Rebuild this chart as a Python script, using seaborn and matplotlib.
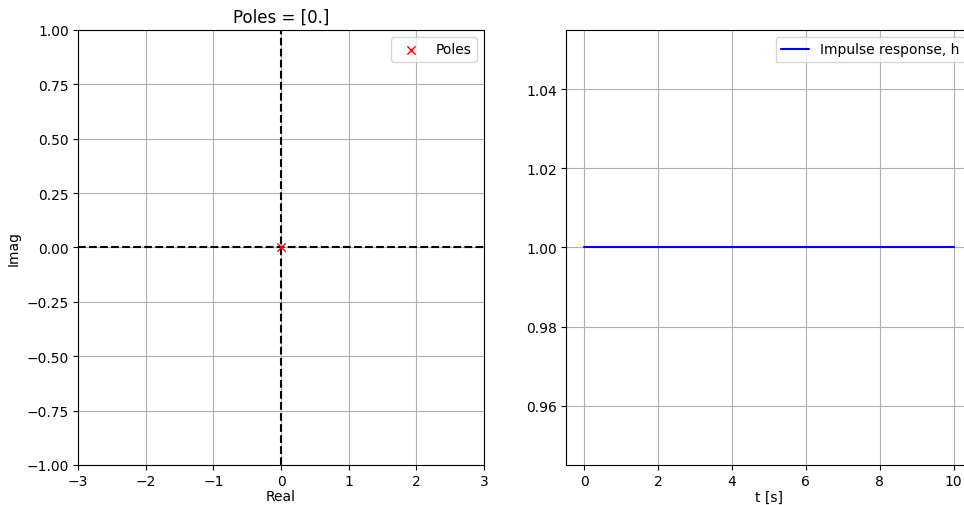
import numpy as np
import pandas as pd
import seaborn as sns
import matplotlib.pyplot as plt

# data
poles_real = [0.0]
poles_imag = [0.0]
t = [0.0, 10.0]
h = [1.0, 1.0]

sns.set_style("ticks")
plt.rcParams['font.family'] = ['DejaVu Sans']
plt.rcParams['text.color'] = 'black'
plt.rcParams['axes.labelcolor'] = 'black'
plt.rcParams['xtick.color'] = 'black'
plt.rcParams['ytick.color'] = 'black'

fig = plt.figure(figsize=(9.64, 5.06), dpi=100)
ax1 = fig.add_axes([0.0809, 0.0791, 0.4212, 0.8597])
ax2 = fig.add_axes([0.5871, 0.0791, 0.4212, 0.8597])

# pole-zero plot
ax1.axhline(0, color='black', linestyle='--', zorder=1)
ax1.axvline(0, color='black', linestyle='--', zorder=1)
pole_df = pd.DataFrame({'Real': poles_real, 'Imag': poles_imag})
sns.scatterplot(data=pole_df, x='Real', y='Imag', ax=ax1, marker='x', color='red',
                s=36, linewidth=1.0, label='Poles', zorder=3)
ax1.set_xlim(-3, 3)
ax1.set_ylim(-1, 1)
ax1.set_yticks(np.arange(-1, 1.01, 0.25))
ax1.grid(True, color='#b0b0b0', linewidth=0.8)
ax1.set_title('Poles = [0.]', fontsize=12, color='black')
ax1.set_xlabel('Real', labelpad=1)
ax1.set_ylabel('Imag')
ax1.legend(loc='upper right')

# impulse response
resp_df = pd.DataFrame({'t [s]': t, 'h': h})
sns.lineplot(data=resp_df, x='t [s]', y='h', ax=ax2, color='blue',
             label='Impulse response, h')
ax2.set_xlim(-0.5, 10.5)
ax2.set_ylim(0.945, 1.055)
ax2.set_yticks([0.96, 0.98, 1.00, 1.02, 1.04])
ax2.grid(True, color='#b0b0b0', linewidth=0.8)
ax2.set_xlabel('t [s]', labelpad=1)
ax2.set_ylabel('')
ax2.legend(loc='upper right')

for ax in (ax1, ax2):
    for s in ax.spines.values():
        s.set_color('black')
        s.set_linewidth(0.8)
    ax.tick_params(colors='black', length=3.5, width=0.8, direction='out', pad=3)

fig.savefig('out.png', dpi=100)
